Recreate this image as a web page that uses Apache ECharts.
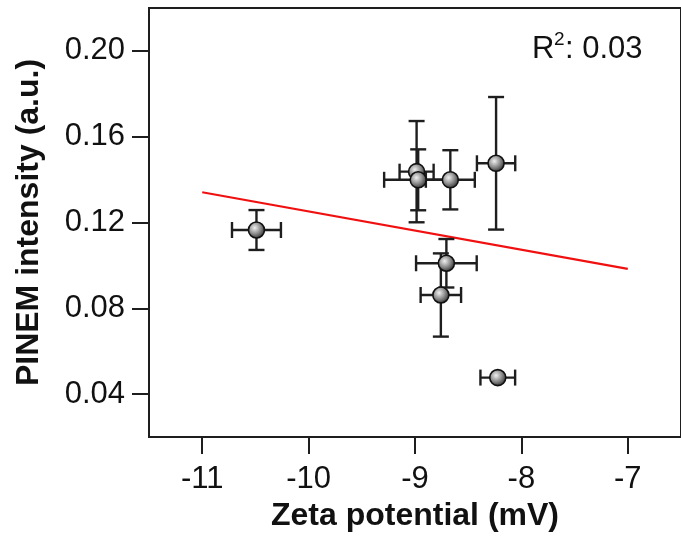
<!DOCTYPE html>
<html>
<head>
<meta charset="utf-8">
<script src="https://cdn.jsdelivr.net/npm/echarts@6/dist/echarts.min.js"></script>
<style>
  html, body { margin: 0; padding: 0; background: #fff; }
  #chart { width: 681px; height: 542px; }
</style>
</head>
<body>
<div id="chart"></div>
<script>
// measured points (zeta potential, PINEM intensity) and their error bars
var zeta = [-10.49, -8.985, -8.97, -8.668, -8.238, -8.705, -8.757, -8.222];
var pinem = [0.1165, 0.1437, 0.1399, 0.1399, 0.1476, 0.101, 0.0862, 0.0477];
var zetaErr = [0.23, 0.16, 0.32, 0.23, 0.18, 0.285, 0.19, 0.163];
var pinemErr = [0.0093, 0.0236, 0.0142, 0.0138, 0.0309, 0.0113, 0.0194, 0];

// linear fit line
var fitX = [-11, -7];
var fitY = [0.1341, 0.0984];

var xTicks = [-11, -10, -9, -8, -7];
var yTicks = [0.04, 0.08, 0.12, 0.16, 0.20];
var r2Text = "0.03";

var chart = echarts.init(document.getElementById("chart"));

var points = zeta.map(function (x, i) {
  return [x, pinem[i], zetaErr[i], pinemErr[i]];
});
var fitLine = fitX.map(function (x, i) {
  return [x, fitY[i]];
});

var ink = "#1e1e1e";
var font = "Liberation Sans, Arial, sans-serif";

function errorBars(params, api) {
  var x = api.value(0), y = api.value(1), dx = api.value(2), dy = api.value(3);
  var cap = 8;
  var style = { stroke: ink, lineWidth: 2.4 };
  var kids = [];
  var l = api.coord([x - dx, y]);
  var r = api.coord([x + dx, y]);
  kids.push({ type: "line", shape: { x1: l[0], y1: l[1], x2: r[0], y2: r[1] }, style: style });
  kids.push({ type: "line", shape: { x1: l[0], y1: l[1] - cap, x2: l[0], y2: l[1] + cap }, style: style });
  kids.push({ type: "line", shape: { x1: r[0], y1: r[1] - cap, x2: r[0], y2: r[1] + cap }, style: style });
  if (dy > 0) {
    var t = api.coord([x, y + dy]);
    var b = api.coord([x, y - dy]);
    kids.push({ type: "line", shape: { x1: t[0], y1: t[1], x2: b[0], y2: b[1] }, style: style });
    kids.push({ type: "line", shape: { x1: t[0] - cap, y1: t[1], x2: t[0] + cap, y2: t[1] }, style: style });
    kids.push({ type: "line", shape: { x1: b[0] - cap, y1: b[1], x2: b[0] + cap, y2: b[1] }, style: style });
  }
  return { type: "group", children: kids };
}

var option = {
  animation: false,
  backgroundColor: "#fff",
  grid: {
    left: 149,
    top: 8,
    right: -4,
    bottom: 105,
    show: true,
    borderColor: ink,
    borderWidth: 2
  },
  xAxis: {
    type: "value",
    min: -11.5,
    max: -6.5,
    interval: 1,
    name: "Zeta potential (mV)",
    nameLocation: "middle",
    nameGap: 60,
    nameTextStyle: { fontFamily: font, fontSize: 32, fontWeight: "bold", color: "#111" },
    axisLine: { lineStyle: { color: ink, width: 2 } },
    axisTick: { length: 17, lineStyle: { color: ink, width: 2 }, customValues: xTicks },
    axisLabel: { fontFamily: font, fontSize: 31, color: "#111", margin: 27, customValues: xTicks },
    splitLine: { show: false }
  },
  yAxis: {
    type: "value",
    min: 0.02,
    max: 0.22,
    interval: 0.02,
    name: "PINEM intensity (a.u.)",
    nameLocation: "middle",
    nameGap: 104,
    nameTextStyle: { fontFamily: font, fontSize: 32, fontWeight: "bold", color: "#111" },
    axisLine: { lineStyle: { color: ink, width: 2 } },
    axisTick: { length: 17, lineStyle: { color: ink, width: 2 }, customValues: yTicks },
    axisLabel: {
      fontFamily: font, fontSize: 31, color: "#111", margin: 24,
      customValues: yTicks,
      formatter: function (v) { return v.toFixed(2); }
    },
    splitLine: { show: false }
  },
  graphic: [
    { type: "text", left: 532, top: 34, style: { text: "R", font: "31px " + font, fill: "#111" } },
    { type: "text", left: 554, top: 30, style: { text: "2", font: "19px " + font, fill: "#111" } },
    { type: "text", left: 565, top: 34, style: { text: ": " + r2Text, font: "31px " + font, fill: "#111" } }
  ],
  series: [
    {
      type: "line",
      data: fitLine,
      symbol: "none",
      silent: true,
      lineStyle: { color: "#f01010", width: 2.2 },
      z: 2
    },
    {
      type: "custom",
      data: points,
      renderItem: errorBars,
      encode: { x: 0, y: 1 },
      z: 3
    },
    {
      type: "scatter",
      data: points,
      symbolSize: 16,
      itemStyle: {
        color: new echarts.graphic.RadialGradient(0.4, 0.38, 0.62, [
          { offset: 0, color: "#f0f0f0" },
          { offset: 0.55, color: "#8c8c8c" },
          { offset: 1, color: "#333" }
        ]),
        borderColor: "#111",
        borderWidth: 1.6,
        opacity: 1
      },
      z: 4
    }
  ]
};

chart.setOption(option);
</script>
</body>
</html>
